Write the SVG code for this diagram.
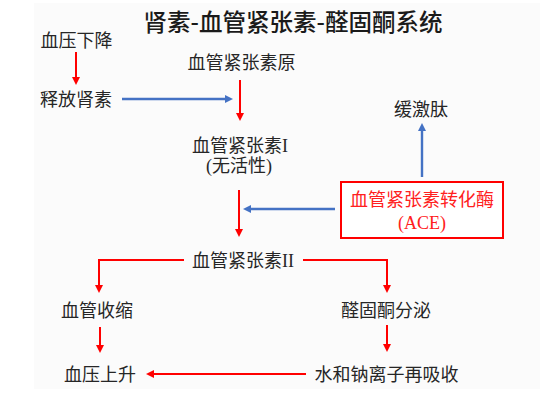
<svg xmlns="http://www.w3.org/2000/svg" width="554" height="405" viewBox="0 0 554 405">
  <style>
    .t { font-family: "Liberation Serif", "Noto Sans CJK SC", serif; font-size: 18px; fill: #262626; text-anchor: middle; }
    .title { font-family: "Noto Sans CJK SC", "Liberation Sans", sans-serif; font-size: 23.5px; font-weight: 500; fill: #1a1a1a; text-anchor: middle; }
    .red { stroke: #ff0000; stroke-width: 2; fill: none; }
    .blue { stroke: #4472c4; stroke-width: 2.4; fill: none; }
  </style>
  <defs>
    <marker id="ar" markerUnits="userSpaceOnUse" markerWidth="8" markerHeight="8" viewBox="0 0 8 8" refX="3" refY="4" orient="auto">
      <path d="M0,0 L8,4 L0,8 z" fill="#ff0000"/>
    </marker>
    <marker id="ab" markerUnits="userSpaceOnUse" markerWidth="8" markerHeight="8" viewBox="0 0 8 8" refX="3" refY="4" orient="auto">
      <path d="M0,0 L8,4 L0,8 z" fill="#4472c4"/>
    </marker>
  </defs>
  <rect width="554" height="405" fill="#ffffff"/>
  <rect x="34" y="3" width="506" height="386" fill="#fbfbfb"/>

  <text class="title" x="293" y="31">肾素-血管紧张素-醛固酮系统</text>

  <g id="n-bp-drop"><text class="t" x="76.5" y="47">血压下降</text></g>
  <g id="n-renin"><text class="t" x="76" y="106">释放肾素</text></g>
  <g id="n-angiotensinogen"><text class="t" x="241.5" y="69">血管紧张素原</text></g>
  <g id="n-bradykinin"><text class="t" x="421" y="116">缓激肽</text></g>
  <g id="n-ang1"><text class="t" x="240" y="152">血管紧张素I</text><text class="t" x="239" y="172">(无活性)</text></g>
  <g id="n-ace">
    <rect x="341" y="182" width="162" height="56" fill="#ffffff" stroke="#ff0000" stroke-width="2"/>
    <text class="t" x="422" y="206" style="fill:#ff2020">血管紧张素转化酶</text>
    <text class="t" x="422" y="229" style="fill:#ff2020">(ACE)</text>
  </g>
  <g id="n-ang2"><text class="t" x="243" y="267">血管紧张素II</text></g>
  <g id="n-vasoconstriction"><text class="t" x="97" y="317">血管收缩</text></g>
  <g id="n-aldosterone"><text class="t" x="386" y="317">醛固酮分泌</text></g>
  <g id="n-bp-rise"><text class="t" x="100" y="381">血压上升</text></g>
  <g id="n-reabsorb"><text class="t" x="386.5" y="381">水和钠离子再吸收</text></g>

  <g id="connectors">
    <path class="red" d="M76,52 V80" marker-end="url(#ar)"/>
    <path class="blue" d="M122,99 H228" marker-end="url(#ab)"/>
    <path class="red" d="M240,80 V116" marker-end="url(#ar)"/>
    <path class="blue" d="M422,177 V128" marker-end="url(#ab)"/>
    <path class="red" d="M239,190 V232" marker-end="url(#ar)"/>
    <path class="blue" d="M335,209 H248" marker-end="url(#ab)"/>
    <path class="red" d="M184,260 H99 V288" marker-end="url(#ar)"/>
    <path class="red" d="M303,260 H387 V288" marker-end="url(#ar)"/>
    <path class="red" d="M100,327 V348" marker-end="url(#ar)"/>
    <path class="red" d="M387,325 V347" marker-end="url(#ar)"/>
    <path class="red" d="M306,374 H151" marker-end="url(#ar)"/>
  </g>
</svg>
